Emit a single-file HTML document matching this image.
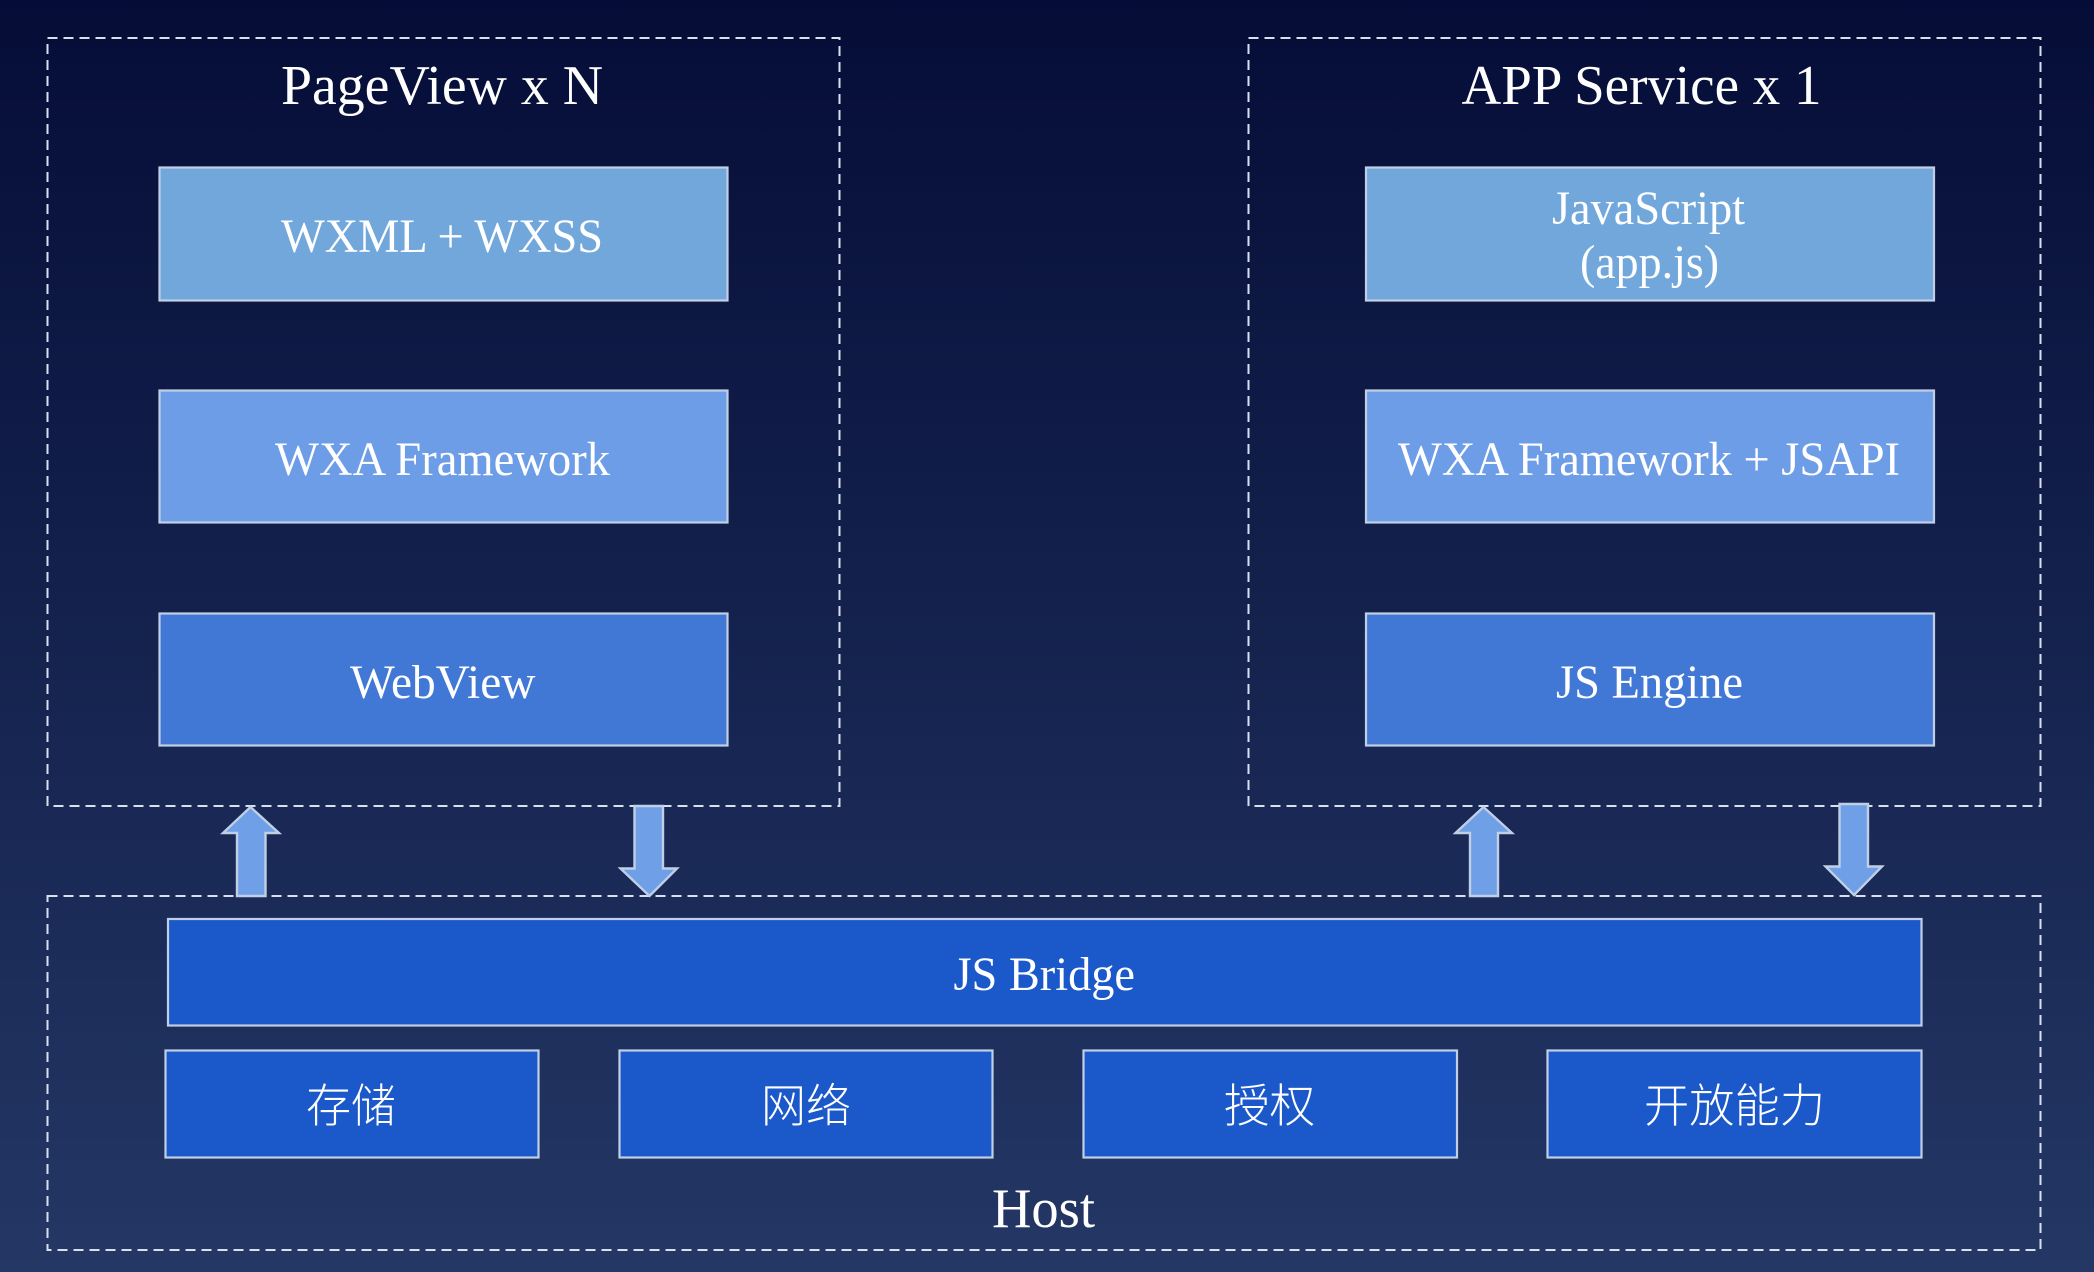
<!DOCTYPE html>
<html><head><meta charset="utf-8"><style>
html,body{margin:0;padding:0;width:2094px;height:1272px;overflow:hidden;background:#0a1540}
svg{display:block}
text{fill:#fff;font-family:"Liberation Serif","Noto Sans CJK SC",serif;text-anchor:start}
.c{font-family:"Liberation Serif","Noto Sans CJK SC",sans-serif;font-weight:300;font-size:46px}
.b{stroke:#c0cfe6;stroke-width:2.2}
.d{fill:none;stroke:#d8e0ee;stroke-width:2;stroke-dasharray:10 6}
.a{fill:#6f9fe6;stroke:#c0cfe6;stroke-width:2.4;stroke-linejoin:miter}
</style></head><body>
<svg width="2094" height="1272" viewBox="0 0 2094 1272" xmlns="http://www.w3.org/2000/svg">
<defs><linearGradient id="g" x1="0" y1="0" x2="0" y2="1"><stop offset="0" stop-color="#050d37"/><stop offset="1" stop-color="#243765"/></linearGradient></defs>
<rect width="2094" height="1272" fill="url(#g)"/>

<rect class="d" x="47.5" y="38" width="792" height="768"/>
<rect class="d" x="1248.5" y="38" width="792" height="768"/>
<rect class="d" x="47.5" y="896" width="1993" height="354"/>

<rect class="b" x="159.5" y="167.5" width="568" height="133" fill="#72a7db"/>
<rect class="b" x="159.5" y="390.5" width="568" height="132" fill="#6d9de6"/>
<rect class="b" x="159.5" y="613.5" width="568" height="132" fill="#4178d6"/>
<rect class="b" x="1366" y="167.5" width="568" height="133" fill="#72a7db"/>
<rect class="b" x="1366" y="390.5" width="568" height="132" fill="#6d9de6"/>
<rect class="b" x="1366" y="613.5" width="568" height="132" fill="#4178d6"/>
<rect class="b" x="168" y="919" width="1753.5" height="106.5" fill="#1b58ca"/>
<rect class="b" x="165.5" y="1050.5" width="373" height="107" fill="#1b58ca"/>
<rect class="b" x="619.5" y="1050.5" width="373" height="107" fill="#1b58ca"/>
<rect class="b" x="1083.5" y="1050.5" width="373.5" height="107" fill="#1b58ca"/>
<rect class="b" x="1547.5" y="1050.5" width="374" height="107" fill="#1b58ca"/>

<polygon class="a" points="250.5,807 279,833 265.5,833 265.5,896 237,896 237,833 223,833"/>
<polygon class="a" points="634.5,806 663,806 663,868.5 677,868.5 649.5,896 620.5,868.5 634.5,868.5"/>
<polygon class="a" points="1483.5,807 1512,833 1498,833 1498,896 1470,896 1470,833 1455.5,833"/>
<polygon class="a" points="1839.5,804 1868,804 1868,866.5 1882,866.5 1854,895 1825.5,866.5 1839.5,866.5"/>

<text x="281" y="104" font-size="56" textLength="322" lengthAdjust="spacingAndGlyphs">PageView x N</text>
<text x="1461.5" y="104" font-size="56" textLength="360" lengthAdjust="spacingAndGlyphs">APP Service x 1</text>
<text x="281" y="252" font-size="48" textLength="322" lengthAdjust="spacingAndGlyphs">WXML + WXSS</text>
<text x="275" y="475" font-size="48" textLength="335" lengthAdjust="spacingAndGlyphs">WXA Framework</text>
<text x="350" y="698" font-size="48" textLength="185.5" lengthAdjust="spacingAndGlyphs">WebView</text>
<text x="1552" y="224" font-size="48" textLength="193" lengthAdjust="spacingAndGlyphs">JavaScript</text>
<text x="1580" y="278" font-size="48" textLength="139" lengthAdjust="spacingAndGlyphs">(app.js)</text>
<text x="1398" y="475" font-size="48" textLength="502" lengthAdjust="spacingAndGlyphs">WXA Framework + JSAPI</text>
<text x="1556" y="698" font-size="48" textLength="187" lengthAdjust="spacingAndGlyphs">JS Engine</text>
<text x="953.5" y="990" font-size="48" textLength="181.5" lengthAdjust="spacingAndGlyphs">JS Bridge</text>
<text class="c" x="306" y="1122" textLength="90" lengthAdjust="spacingAndGlyphs">存储</text>
<text class="c" x="761" y="1122" textLength="90" lengthAdjust="spacingAndGlyphs">网络</text>
<text class="c" x="1224" y="1122" textLength="91" lengthAdjust="spacingAndGlyphs">授权</text>
<text class="c" x="1644" y="1122" textLength="181" lengthAdjust="spacingAndGlyphs">开放能力</text>
<text x="992" y="1227" font-size="56" textLength="103" lengthAdjust="spacingAndGlyphs">Host</text>
</svg>
</body></html>
